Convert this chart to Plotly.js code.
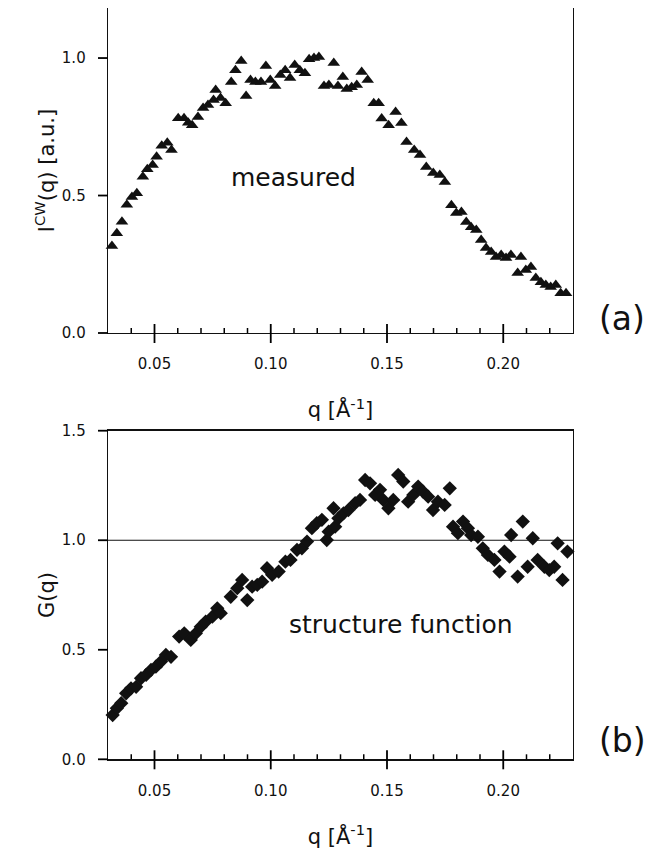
<!DOCTYPE html>
<html>
<head>
<meta charset="utf-8">
<script src="https://cdn.plot.ly/plotly-3.0.1.min.js"></script>
<style>html,body{margin:0;padding:0;background:#fff;}</style>
</head>
<body>
<div id="chart" style="width:651px;height:849px;"></div>
<script>
// (a) measured intensity I^CW(q)
const qMeasured = [0.0317,0.0338,0.0360,0.0381,0.0403,0.0424,0.0450,0.0469,0.0492,0.0509,
  0.0531,0.0555,0.0573,0.0602,0.0627,0.0645,0.0662,0.0687,0.0709,0.0730,
  0.0754,0.0763,0.0784,0.0806,0.0830,0.0848,0.0873,0.0894,0.0913,0.0934,
  0.0958,0.0979,0.0998,0.1019,0.1041,0.1062,0.1083,0.1103,0.1125,0.1147,
  0.1165,0.1186,0.1207,0.1229,0.1250,0.1271,0.1289,0.1310,0.1327,0.1348,
  0.1370,0.1391,0.1417,0.1443,0.1464,0.1477,0.1507,0.1537,0.1562,0.1584,
  0.1617,0.1642,0.1669,0.1699,0.1727,0.1749,0.1777,0.1798,0.1820,0.1841,
  0.1862,0.1884,0.1905,0.1926,0.1948,0.1969,0.1991,0.2012,0.2033,0.2062,
  0.2076,0.2097,0.2119,0.2140,0.2162,0.2183,0.2204,0.2226,0.2247,0.2270];
const iMeasured = [0.316,0.363,0.405,0.466,0.495,0.508,0.568,0.596,0.611,0.641,
  0.681,0.692,0.666,0.781,0.781,0.765,0.756,0.786,0.818,0.829,
  0.847,0.884,0.855,0.836,0.913,0.956,0.989,0.862,0.920,0.913,
  0.913,0.971,0.920,0.898,0.938,0.956,0.927,0.975,0.956,0.945,
  0.996,1.000,1.004,0.898,0.902,0.982,0.898,0.931,0.887,0.894,
  0.902,0.949,0.920,0.836,0.836,0.780,0.756,0.804,0.764,0.695,
  0.666,0.647,0.604,0.582,0.575,0.549,0.465,0.436,0.440,0.404,
  0.385,0.375,0.338,0.309,0.295,0.276,0.284,0.273,0.284,0.218,
  0.276,0.229,0.240,0.200,0.185,0.175,0.167,0.175,0.145,0.145];

// (b) structure function G(q)
const qStructure = [0.0320,0.0338,0.0357,0.0378,0.0399,0.0421,0.0442,0.0464,0.0485,0.0506,
  0.0528,0.0549,0.0571,0.0606,0.0628,0.0656,0.0678,0.0699,0.0720,0.0749,
  0.0770,0.0785,0.0828,0.0856,0.0877,0.0899,0.0920,0.0942,0.0963,0.0984,
  0.1006,0.1034,0.1063,0.1085,0.1113,0.1134,0.1156,0.1177,0.1198,0.1220,
  0.1241,0.1249,0.1270,0.1277,0.1291,0.1313,0.1334,0.1363,0.1384,0.1406,
  0.1427,0.1449,0.1470,0.1484,0.1506,0.1527,0.1548,0.1570,0.1591,0.1613,
  0.1634,0.1655,0.1677,0.1698,0.1719,0.1748,0.1770,0.1784,0.1805,0.1827,
  0.1848,0.1862,0.1891,0.1912,0.1934,0.1962,0.1984,0.2005,0.2027,0.2034,
  0.2062,0.2084,0.2105,0.2127,0.2148,0.2177,0.2198,0.2219,0.2234,0.2255,0.2276];
const gStructure = [0.202,0.233,0.256,0.301,0.324,0.331,0.370,0.385,0.408,0.423,
  0.446,0.476,0.468,0.560,0.575,0.545,0.575,0.605,0.628,0.651,
  0.689,0.667,0.742,0.781,0.819,0.727,0.788,0.796,0.811,0.872,
  0.842,0.857,0.902,0.910,0.956,0.963,0.994,1.055,1.078,1.093,
  1.001,1.039,1.146,1.062,1.100,1.123,1.138,1.169,1.184,1.275,
  1.260,1.207,1.230,1.184,1.146,1.184,1.298,1.268,1.176,1.207,
  1.245,1.222,1.199,1.138,1.176,1.161,1.237,1.062,1.032,1.085,
  1.055,1.024,1.016,0.963,0.933,0.910,0.857,0.948,0.925,1.024,
  0.834,1.085,0.879,1.009,0.910,0.879,0.864,0.879,0.986,0.819,0.948];

const xTickVals = [0.05, 0.10, 0.15, 0.20];
const xTickText = ['0.05', '0.10', '0.15', '0.20'];
const xMinorVals = [0.04, 0.06, 0.07, 0.08, 0.09, 0.11, 0.12, 0.13, 0.14, 0.16, 0.17, 0.18, 0.19, 0.21, 0.22];
const yTopTickVals = [0.0, 0.5, 1.0];
const yTopTickText = ['0.0', '0.5', '1.0'];
const yBotTickVals = [0.0, 0.5, 1.0, 1.5];
const yBotTickText = ['0.0', '0.5', '1.0', '1.5'];
const referenceLevel = 1.0;

const W = 651, H = 849;
const px = v => v / W;
const py = v => 1 - v / H;

const FONT = 'DejaVu Sans, Liberation Sans, Arial, sans-serif';
const INK = '#111111';

const traces = [
  {x: qMeasured, y: iMeasured, xaxis: 'x', yaxis: 'y', type: 'scatter', mode: 'markers',
   cliponaxis: false, marker: {symbol: 'triangle-up', size: 11, color: INK}, hoverinfo: 'x+y'},
  {x: qStructure, y: gStructure, xaxis: 'x2', yaxis: 'y2', type: 'scatter', mode: 'markers',
   cliponaxis: false, marker: {symbol: 'diamond', size: 11, color: INK}, hoverinfo: 'x+y'}
];

const xDom = [px(108), px(573)];
const xRange = [0.03, 0.23];
const yTopDom = [py(333), py(8)];
const yTopRange = [0, 1.182];
const yBotDom = [py(759.3), py(430.7)];
const yBotRange = [0, 1.5];

const tickFont = {family: FONT, size: 15, color: INK};
const titleFont = s => ({family: FONT, size: s, color: INK});
const HIDDEN = 'rgba(0,0,0,0)';

function xAxis(anchor, mirror) {
  return {
    domain: xDom, range: xRange, anchor: anchor,
    showline: true, linecolor: INK, linewidth: 1.3, mirror: mirror,
    tickmode: 'array', tickvals: xTickVals, ticktext: xTickText,
    ticks: 'outside', ticklen: 10, tickwidth: 1, tickcolor: HIDDEN,
    tickfont: tickFont, ticklabelstandoff: 7,
    title: {text: 'q [Å<sup>-1</sup>]', font: titleFont(21), standoff: 30},
    showgrid: false, zeroline: false, fixedrange: true
  };
}
function yAxis(dom, range, vals, text, anchor, title) {
  return {
    domain: dom, range: range, anchor: anchor,
    showline: true, linecolor: INK, linewidth: 1.3, mirror: true,
    tickmode: 'array', tickvals: vals, ticktext: text,
    ticks: 'outside', ticklen: 10, tickwidth: 1, tickcolor: HIDDEN,
    tickfont: tickFont, ticklabelstandoff: 8,
    title: {text: title, font: titleFont(21), standoff: 1},
    showgrid: false, zeroline: false, fixedrange: true
  };
}

// Tick marks drawn as paper shapes (major q ticks cross the axis line, minor ones point inward)
const lerp = (dom, range, v) => dom[0] + (v - range[0]) / (range[1] - range[0]) * (dom[1] - dom[0]);
const tickLine = (x0, x1, y0, y1, w) => ({type: 'line', xref: 'paper', yref: 'paper', layer: 'above',
  x0: x0, x1: x1, y0: y0, y1: y1, line: {color: '#000000', width: w}});
const shapes = [];
[[yTopDom, yTopRange, yTopTickVals], [yBotDom, yBotRange, yBotTickVals]].forEach(([yDom, yRange, yVals]) => {
  const base = yDom[0];
  xTickVals.forEach(v => {
    const xp = lerp(xDom, xRange, v);
    shapes.push(tickLine(xp, xp, base - 10 / H, base + 9 / H, 1.8));
  });
  xMinorVals.forEach(v => {
    const xp = lerp(xDom, xRange, v);
    shapes.push(tickLine(xp, xp, base, base + 5 / H, 1.5));
  });
  yVals.forEach(v => {
    const yp = lerp(yDom, yRange, v);
    shapes.push(tickLine(xDom[0] - 10 / W, xDom[0], yp, yp, 1.8));
  });
});
shapes.push({type: 'line', xref: 'x2 domain', yref: 'y2', x0: 0, x1: 1,
  y0: referenceLevel, y1: referenceLevel, line: {color: INK, width: 1.2}});

const layout = {
  width: W, height: H,
  margin: {l: 0, r: 0, t: 0, b: 0},
  paper_bgcolor: '#ffffff', plot_bgcolor: '#ffffff',
  showlegend: false,
  xaxis: xAxis('y', false),
  yaxis: yAxis(yTopDom, yTopRange, yTopTickVals, yTopTickText, 'x', 'I<sup>CW</sup>(q) [a.u.]'),
  xaxis2: xAxis('y2', true),
  yaxis2: yAxis(yBotDom, yBotRange, yBotTickVals, yBotTickText, 'x2', 'G(q)'),
  shapes: shapes,
  annotations: [
    {xref: 'paper', yref: 'paper', x: px(293), y: py(178), text: 'measured', showarrow: false,
     xanchor: 'center', yanchor: 'middle', font: titleFont(25)},
    {xref: 'paper', yref: 'paper', x: px(401), y: py(624), text: 'structure function', showarrow: false,
     xanchor: 'center', yanchor: 'middle', font: titleFont(25)},
    {xref: 'paper', yref: 'paper', x: px(622), y: py(318), text: '(a)', showarrow: false,
     xanchor: 'center', yanchor: 'middle', font: titleFont(33)},
    {xref: 'paper', yref: 'paper', x: px(622), y: py(740), text: '(b)', showarrow: false,
     xanchor: 'center', yanchor: 'middle', font: titleFont(33)}
  ]
};

Plotly.newPlot('chart', traces, layout, {staticPlot: true, displayModeBar: false});
</script>
</body>
</html>
